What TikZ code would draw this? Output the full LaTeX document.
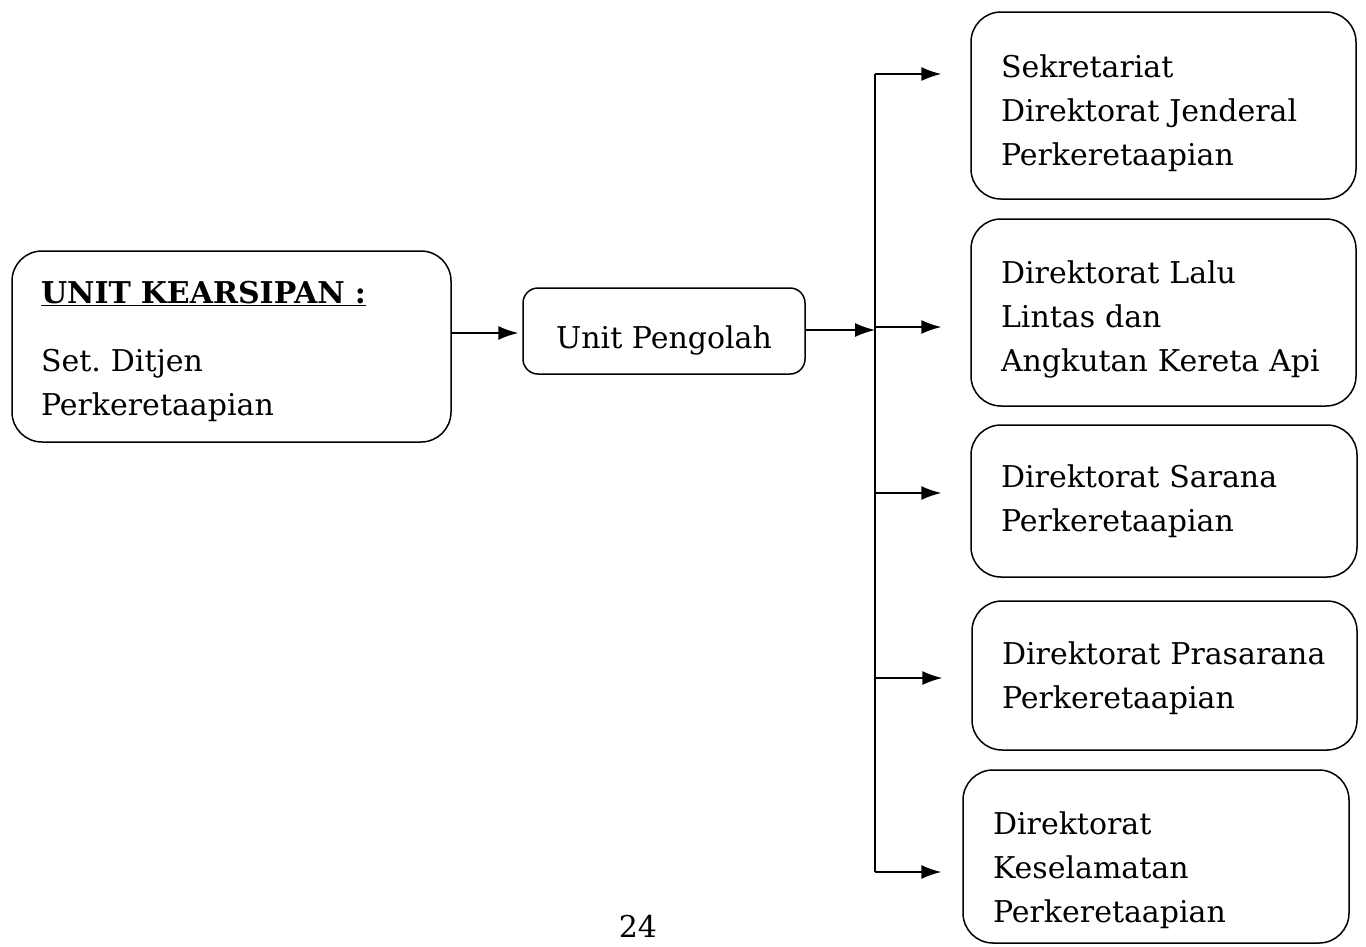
\documentclass[tikz,border=0pt]{standalone}
\usepackage{fontspec}
\setmainfont{DejaVu Serif}
\usetikzlibrary{arrows.meta, positioning, shapes}
\newcommand{\tdown}[1]{\rule{0pt}{#1}}

\begin{document}
\begin{tikzpicture}[x=1pt, y=-1pt, font=\fontsize{30}{44}\selectfont]
\tikzstyle{unit} = [rectangle, draw, line width=1.5pt, rounded corners=30pt,
    align=left, inner xsep=0pt, inner ysep=0pt]
\tikzstyle{line} = [draw, line width=1.5pt, -{Latex[length=20pt,width=14pt]}]
    \useasboundingbox (0,0) rectangle (1366,946);

    % Place nodes
    \node [unit, minimum width=439, minimum height=191, text width=381] (arsip) at (231.5,346.5)
        {\tdown{32pt}\underline{\textbf{UNIT KEARSIPAN :}}\\[24pt] Set.\ Ditjen\\ Perkeretaapian};
    \node [unit, rounded corners=15pt, minimum width=282, minimum height=86, align=center] (pengolah) at (664,331) {\tdown{42pt}Unit Pengolah};
    \node [unit, minimum width=385, minimum height=187, text width=325] (sekr) at (1163.5,105.5)
        {\tdown{38pt}Sekretariat\\ Direktorat Jenderal\\ Perkeretaapian};
    \node [unit, minimum width=385, minimum height=187, text width=325] (lalu) at (1163.5,312.5)
        {\tdown{36pt}Direktorat Lalu\\ Lintas dan\\ Angkutan Kereta Api};
    \node [unit, minimum width=386, minimum height=152, text width=326] (sarana) at (1164,501)
        {\tdown{24pt}Direktorat Sarana\\ Perkeretaapian};
    \node [unit, minimum width=385, minimum height=149, text width=325] (prasarana) at (1164.5,675.5)
        {\tdown{28pt}Direktorat Prasarana\\ Perkeretaapian};
    \node [unit, minimum width=386, minimum height=173, text width=326] (kesel) at (1156,856.5)
        {\tdown{50pt}Direktorat\\ Keselamatan\\ Perkeretaapian};
    \node (halaman) at (638,926) {24};

    % trunk
    \coordinate (top) at (875,74);
    \coordinate (hub) at (875,330);
    \coordinate (bot) at (875,872);
    \draw [line width=1.5pt] (top) -- (bot);

%paths
    \path [line, shorten >=4pt] (arsip.east |- 0,333) -- (pengolah.west |- 0,333);
    \path [line] (pengolah.east |- hub) -- (hub);
    \path [line, shorten >=29pt] (top) -- (sekr.west |- top);
    \path [line, shorten >=29pt] (875,327) -- (lalu.west |- 0,327);
    \path [line, shorten >=29pt] (875,493) -- (sarana.west |- 0,493);
    \path [line, shorten >=29pt] (875,678) -- (prasarana.west |- 0,678);
    \path [line, shorten >=21pt] (bot) -- (kesel.west |- bot);

\end{tikzpicture}
\end{document}
